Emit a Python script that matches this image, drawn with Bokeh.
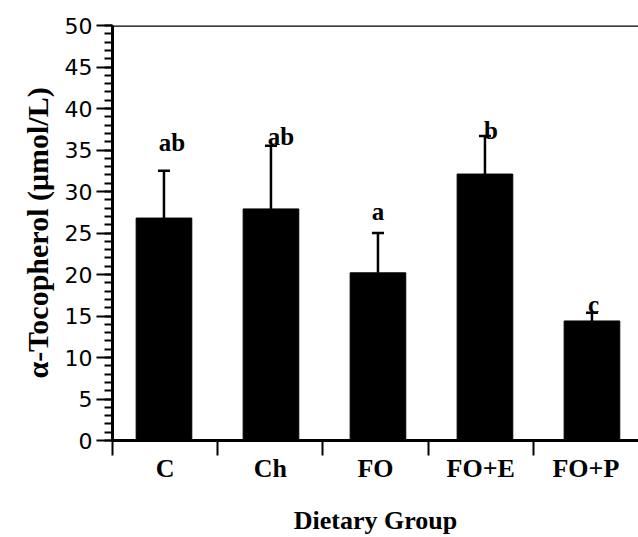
from bokeh.plotting import figure
from bokeh.models import Range1d, FixedTicker, Span, ColumnDataSource
from bokeh.core.properties import value
from bokeh.embed import file_html
from bokeh.resources import INLINE

groups = ["C", "Ch", "FO", "FO+E", "FO+P"]
means = [26.8, 27.9, 20.2, 32.1, 14.4]
upper = [32.5, 35.5, 25.0, 36.7, 15.4]
letters = ["ab", "ab", "a", "b", "c"]
letter_y = [35.85, 36.6, 27.65, 37.3, 16.4]
y_ticks = list(range(0, 51, 5))
y_minor = list(range(0, 51))

pos = [i + 0.5 for i in range(len(groups))]
src = ColumnDataSource(dict(x=pos, mean=means, upper=upper, letters=letters,
                            ly=letter_y, dx=[8, 10, 0, 6, 1.5]))

p = figure(width=638, height=537, output_backend="svg", toolbar_location=None,
           x_range=Range1d(0, 5.0), y_range=Range1d(0, 50),
           min_border_left=112, min_border_right=0, min_border_top=25,
           min_border_bottom=96)
p.extra_x_ranges = {"bars": Range1d(0.019, 4.935)}
p.background_fill_color = "white"
p.border_fill_color = "white"
p.outline_line_color = None
p.xgrid.visible = False
p.ygrid.visible = False

p.vbar(x="x", top="mean", bottom=0, width=0.52, source=src, x_range_name="bars",
       fill_color="black", line_color="black")
p.segment(x0="x", y0="mean", x1="x", y1="upper", source=src, x_range_name="bars",
          line_color="black", line_width=2.5)
p.scatter(x="x", y="upper", marker="dash", size=12, source=src, x_range_name="bars",
          line_color="black", line_width=2.5)
p.text(x="x", y="ly", text="letters", x_offset="dx", source=src, x_range_name="bars",
       text_font=value("Liberation Serif"), text_font_style="bold",
       text_font_size="25px", text_align="center", text_baseline="alphabetic",
       text_color="black")

p.add_layout(Span(location=50, dimension="width", line_color="black", line_width=2.5))

ya = p.yaxis[0]
ya.ticker = FixedTicker(ticks=y_ticks, minor_ticks=y_minor)
ya.axis_line_width = 3
ya.major_tick_out = 16
ya.major_tick_in = 0
ya.minor_tick_out = 8
ya.minor_tick_in = 0
ya.major_tick_line_width = 2
ya.minor_tick_line_width = 2
ya.major_label_text_font = "DejaVu Sans"
ya.major_label_text_font_size = "22px"
ya.major_label_text_color = "black"
ya.major_label_standoff = 4
ya.axis_label = "α-Tocopherol (μmol/L)"
ya.axis_label_text_font = "Liberation Serif"
ya.axis_label_text_font_style = "bold"
ya.axis_label_text_font_size = "30px"
ya.axis_label_text_color = "black"
ya.axis_label_standoff = 8

xa = p.xaxis[0]
xa.ticker = FixedTicker(ticks=pos, minor_ticks=list(range(len(groups))))
xa.major_label_overrides = {t: g for t, g in zip(pos, groups)}
xa.axis_line_width = 3
xa.major_tick_line_color = None
xa.major_tick_out = 0
xa.major_tick_in = 0
xa.minor_tick_out = 15
xa.minor_tick_in = 0
xa.minor_tick_line_width = 2
xa.major_label_text_font = "Liberation Serif"
xa.major_label_text_font_style = "bold"
xa.major_label_text_font_size = "26px"
xa.major_label_text_color = "black"
xa.major_label_standoff = -2
xa.axis_label = "Dietary Group"
xa.axis_label_text_font = "Liberation Serif"
xa.axis_label_text_font_style = "bold"
xa.axis_label_text_font_size = "26px"
xa.axis_label_text_color = "black"
xa.axis_label_standoff = 20

open("out.html", "w").write(file_html(p, INLINE))
